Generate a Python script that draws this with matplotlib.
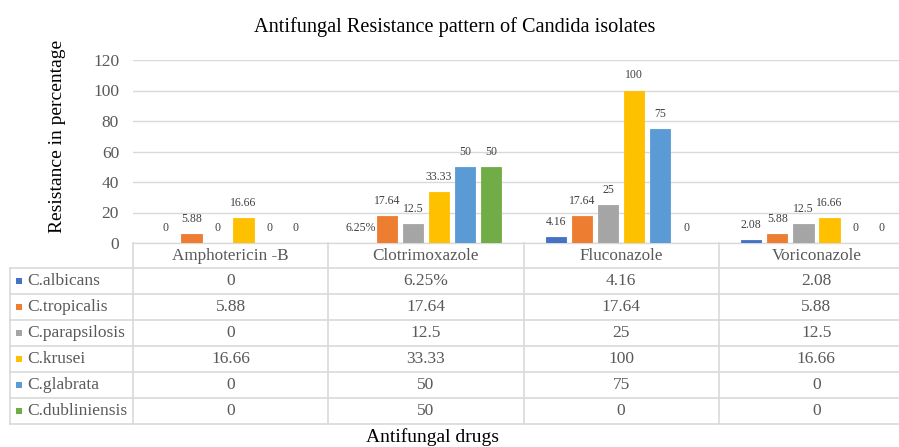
import matplotlib
matplotlib.use("Agg")
import matplotlib.pyplot as plt
from matplotlib.transforms import blended_transform_factory
from matplotlib.lines import Line2D
from matplotlib.patches import Rectangle

plt.rcParams['font.family'] = ['Liberation Serif', 'DejaVu Serif']

drugs = ["Amphotericin -B", "Clotrimoxazole", "Fluconazole", "Voriconazole"]
species = ["C.albicans", "C.tropicalis", "C.parapsilosis", "C.krusei", "C.glabrata", "C.dubliniensis"]
albicans = [0, 0.0625, 4.16, 2.08]
tropicalis = [5.88, 17.64, 17.64, 5.88]
parapsilosis = [0, 12.5, 25, 12.5]
krusei = [16.66, 33.33, 100, 16.66]
glabrata = [0, 50, 75, 0]
dubliniensis = [0, 50, 0, 0]
albicans_text = ["0", "6.25%", "4.16", "2.08"]
yticks = [0, 20, 40, 60, 80, 100, 120]

series = [albicans, tropicalis, parapsilosis, krusei, glabrata, dubliniensis]
colors = ["#4472C4", "#ED7D31", "#A5A5A5", "#FFC000", "#5B9BD5", "#70AD47"]

W, H = 899, 447
fig = plt.figure(figsize=(W / 100, H / 100), dpi=100)
fig.patch.set_facecolor("white")

def fx(px):
    return px / W

def fy(py):
    return 1 - py / H

# plot area: x 133..914 px (cropped at right), y 60..243 px
ax = fig.add_axes([fx(133), fy(243), fx(914) - fx(133), fy(60) - fy(243)])
ax.set_xlim(-0.5, len(drugs) - 0.5)
ax.set_ylim(0, 120)
ax.set_yticks(yticks)
ax.set_xticks([])
ax.tick_params(axis='y', length=0, labelsize=12.5, labelcolor="#595959", pad=10)
for s in ["top", "right", "left"]:
    ax.spines[s].set_visible(False)
ax.spines["bottom"].set_color("#D9D9D9")
ax.spines["bottom"].set_linewidth(1)
ax.grid(axis='y', color="#D9D9D9", linewidth=1)
ax.set_axisbelow(True)

n = len(series)
slot = 0.1333
bw = 0.104
for i, (vals, col) in enumerate(zip(series, colors)):
    offs = (i - (n - 1) / 2) * slot
    xs = [j + offs for j in range(len(drugs))]
    ax.bar(xs, vals, width=bw, color=col, edgecolor=col, linewidth=0.6, zorder=3)
    for j, v in enumerate(vals):
        txt = albicans_text[j] if i == 0 else f"{v:g}"
        ax.annotate(txt, (xs[j], v), xytext=(0, 10.8), textcoords="offset points",
                    ha="center", va="center", fontsize=8.5, color="#404040")

fig.text(fx(58), fy(136), "Resistance in percentage", rotation=90,
         ha="center", va="center", fontsize=14, color="black")
fig.text(fx(455), fy(27), "Antifungal Resistance pattern of Candida isolates",
         ha="center", va="center", fontsize=14.6, color="black")

# data table below the plot
grid_c = "#D9D9D9"
tr = blended_transform_factory(ax.transData, fig.transFigure)
row_y = [268.3, 294.3, 320.3, 346.3, 372.3, 398.3, 424.3]
left_px = 10

for y in row_y:
    fig.add_artist(Line2D([fx(left_px), 1], [fy(y), fy(y)], color=grid_c, lw=1.2,
                          transform=fig.transFigure))
for b in [-0.5, 0.5, 1.5, 2.5]:
    fig.add_artist(Line2D([b, b], [fy(243), fy(row_y[-1])], color=grid_c, lw=1.2,
                          transform=tr))
fig.add_artist(Line2D([fx(left_px), fx(left_px)], [fy(row_y[0]), fy(row_y[-1])],
                      color=grid_c, lw=1.2, transform=fig.transFigure))

for j, d in enumerate(drugs):
    fig.text(j, fy((243 + row_y[0]) / 2), d, transform=tr, ha="center", va="center",
             fontsize=12.3, color="#595959")

for i, (name, vals, col) in enumerate(zip(species, series, colors)):
    yc = (row_y[i] + row_y[i + 1]) / 2
    fig.add_artist(Rectangle((fx(15.5), fy(yc + 3)), fx(6), fy(0) - fy(6),
                             facecolor=col, edgecolor="none", transform=fig.transFigure))
    fig.text(fx(27), fy(yc), name, ha="left", va="center", fontsize=12.5, color="#595959")
    for j, v in enumerate(vals):
        txt = albicans_text[j] if i == 0 else f"{v:g}"
        fig.text(j, fy(yc), txt, transform=tr, ha="center", va="center",
                 fontsize=12.5, color="#595959")

fig.text(fx(433), fy(446.5), "Antifungal drugs", ha="center", va="bottom", fontsize=14,
         color="black")

fig.savefig("out.png", dpi=100, facecolor="white")
